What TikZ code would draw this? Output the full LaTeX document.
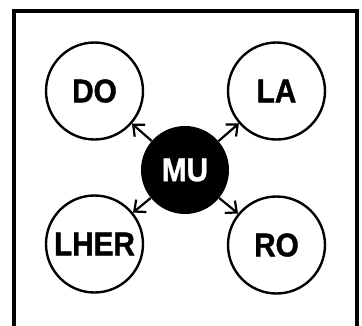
\documentclass[tikz,border=0pt]{standalone}
\usepackage{fontspec}
\setmainfont{Liberation Sans}[FakeStretch=0.9, BoldFeatures={FakeBold=1.2}]
\usetikzlibrary{arrows.meta, positioning}

\begin{document}
\begin{tikzpicture}[
  x=1pt, y=-1pt,
  >={Straight Barb[length=9pt,width=16pt]},
  satnode/.style={
    draw,
    circle,
    line width=2.4pt,
    minimum size=97pt,
    inner sep=0pt,
    font=\fontsize{33}{33}\selectfont\bfseries
    },
  hubnode/.style={
    circle,
    fill=black,
    text=white,
    minimum size=88pt,
    inner sep=0pt,
    font=\fontsize{33}{33}\selectfont\bfseries
    }
]
\useasboundingbox (0,0) rectangle (362,325);

% frame, open at the bottom
\draw[line width=3.4pt] (14,327) -- (14,11) -- (357,11) -- (357,327);

\node[hubnode] (mu) at (185,170) {MU};

\node[satnode] (do) at (94.5,91) {DO};
\node[satnode] (la) at (276.5,91) {LA};
\node[satnode] (lher) at (94.5,244) {LHER};
\node[satnode] (ro) at (276.5,245) {RO};

      % Draw arrows
      \foreach \target in {do, la, lher, ro}
        \draw[line width=2.2pt,->] (mu) -- (\target);

\end{tikzpicture}
\end{document}
